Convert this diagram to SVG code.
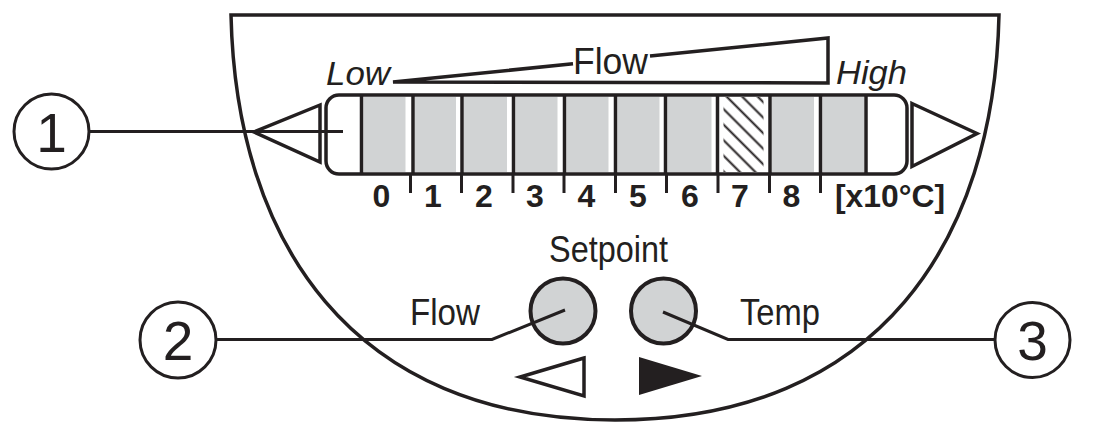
<svg xmlns="http://www.w3.org/2000/svg" width="1098" height="444" viewBox="0 0 1098 444">
<style>
.ln{fill:none;stroke:#231f20;stroke-width:3.5;stroke-linejoin:miter}
.thin{fill:none;stroke:#231f20;stroke-width:3}
.cell{fill:#d1d3d4;stroke:none}
.sep{stroke:#231f20;stroke-width:3.5}
.tick{stroke:#231f20;stroke-width:3}
.t{font-family:"Liberation Sans",Arial,sans-serif;fill:#231f20}
.lab{font-size:36px}
.it{font-size:34px;font-style:italic}
.dg{font-size:32px;font-weight:bold;text-anchor:middle}
.num{font-size:55px;text-anchor:middle}
</style>
<defs>
<pattern id="hatch" patternUnits="userSpaceOnUse" width="11" height="11" patternTransform="rotate(45)">
<line x1="0" y1="5.5" x2="11" y2="5.5" stroke="#231f20" stroke-width="2"/>
</pattern>
</defs>
<g id="housing">
<path class="ln" d="M231,15 L999,15 C994,240 880,420 615,420 C350,420 236,240 231,15 Z"/>
</g>
<g id="scale-label">
<path class="ln" stroke-width="4.5" d="M573,63.8 L393,82 L828,83 L828,38 L650,56"/>
<text class="t it" x="326" y="85" textLength="64" lengthAdjust="spacingAndGlyphs">Low</text>
<text class="t lab" x="573" y="74" textLength="75" lengthAdjust="spacingAndGlyphs">Flow</text>
<text class="t it" x="836" y="84" textLength="71" lengthAdjust="spacingAndGlyphs">High</text>
</g>
<g id="display">
<rect class="ln" stroke-width="4" x="326" y="95" width="581" height="79" rx="13"/>
<rect class="cell" x="363.5" y="97" width="42" height="75"/>
<rect class="cell" x="415" y="97" width="41" height="75"/>
<rect class="cell" x="464" y="97" width="43" height="75"/>
<rect class="cell" x="515.5" y="97" width="42" height="75"/>
<rect class="cell" x="566.5" y="97" width="42" height="75"/>
<rect class="cell" x="617.5" y="97" width="42" height="75"/>
<rect class="cell" x="667.5" y="97" width="44" height="75"/>
<rect x="723.5" y="97" width="40" height="75" fill="url(#hatch)"/>
<rect class="cell" x="772" y="97" width="42" height="75"/>
<rect class="cell" x="822.5" y="97" width="41.5" height="75"/>
<line class="sep" x1="361.5" y1="95" x2="361.5" y2="174"/>
<line class="sep" x1="413" y1="95" x2="413" y2="174"/>
<line class="sep" x1="462" y1="95" x2="462" y2="174"/>
<line class="sep" x1="513.5" y1="95" x2="513.5" y2="174"/>
<line class="sep" x1="564.5" y1="95" x2="564.5" y2="174"/>
<line class="sep" x1="615.5" y1="95" x2="615.5" y2="174"/>
<line class="sep" x1="665.5" y1="95" x2="665.5" y2="174"/>
<line class="sep" x1="717.5" y1="95" x2="717.5" y2="174"/>
<line class="sep" x1="770" y1="95" x2="770" y2="174"/>
<line class="sep" x1="820.5" y1="95" x2="820.5" y2="174"/>
<line class="sep" x1="866" y1="95" x2="866" y2="174"/>
<line class="tick" x1="410.5" y1="174" x2="410.5" y2="193"/>
<line class="tick" x1="461.5" y1="174" x2="461.5" y2="193"/>
<line class="tick" x1="513" y1="174" x2="513" y2="193"/>
<line class="tick" x1="564" y1="174" x2="564" y2="193"/>
<line class="tick" x1="615.5" y1="174" x2="615.5" y2="193"/>
<line class="tick" x1="666.5" y1="174" x2="666.5" y2="193"/>
<line class="tick" x1="718" y1="174" x2="718" y2="193"/>
<line class="tick" x1="769.5" y1="174" x2="769.5" y2="193"/>
<line class="tick" x1="820.5" y1="174" x2="820.5" y2="193"/>
<text class="t dg" x="381.5" y="207">0</text>
<text class="t dg" x="433" y="207">1</text>
<text class="t dg" x="484" y="207">2</text>
<text class="t dg" x="535" y="207">3</text>
<text class="t dg" x="586.5" y="207">4</text>
<text class="t dg" x="638" y="207">5</text>
<text class="t dg" x="690" y="207">6</text>
<text class="t dg" x="740" y="207">7</text>
<text class="t dg" x="791.5" y="207">8</text>
<text class="t" font-size="32" font-weight="bold" x="835" y="207" textLength="110" lengthAdjust="spacingAndGlyphs">[x10°C]</text>
</g>
<g id="arrow-left">
<polygon class="ln" points="320,105 254,132 320,162"/>
</g>
<g id="arrow-right">
<polygon class="ln" points="912,103.5 977,133.5 912,166.5"/>
</g>
<g id="setpoint">
<text class="t lab" x="549" y="262" textLength="119" lengthAdjust="spacingAndGlyphs">Setpoint</text>
</g>
<g id="button-flow">
<circle cx="563" cy="311" r="32.5" fill="#d1d3d4" stroke="#231f20" stroke-width="4"/>
<text class="t lab" x="410" y="325" textLength="70" lengthAdjust="spacingAndGlyphs">Flow</text>
<polygon class="ln" points="584,358 520,377 584,396"/>
</g>
<g id="button-temp">
<circle cx="663.5" cy="311" r="32.5" fill="#d1d3d4" stroke="#231f20" stroke-width="4"/>
<text class="t lab" x="740" y="325" textLength="80" lengthAdjust="spacingAndGlyphs">Temp</text>
<polygon fill="#231f20" points="639,357 702,376 639,395"/>
</g>
<g id="callout-1">
<circle class="thin" cx="51.5" cy="131.5" r="37.5"/>
<text class="t num" x="51.5" y="151.5">1</text>
</g>
<g id="callout-2">
<circle class="thin" cx="178" cy="340" r="38"/>
<text class="t num" x="178" y="360">2</text>
</g>
<g id="callout-3">
<circle class="thin" cx="1032.5" cy="340" r="37.5"/>
<text class="t num" x="1032.5" y="360">3</text>
</g>
<g id="connectors">
<polyline class="thin" points="89,131.5 343,131.5"/>
<polyline class="thin" points="216,339.5 492,339.5 565,310"/>
<polyline class="thin" points="663,312 728,339.5 995,339.5"/>
</g>
</svg>
